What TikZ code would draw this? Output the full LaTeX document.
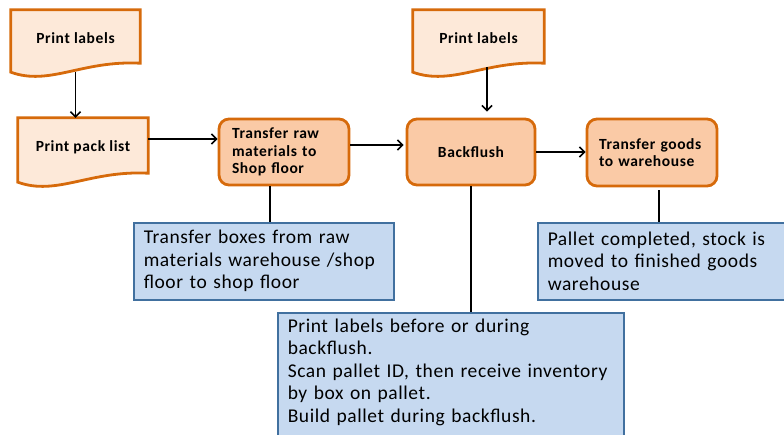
\documentclass[tikz,border=0pt]{standalone}
\usepackage{fontspec}
\setmainfont{Carlito}
\newfontfamily\boxfont[LetterSpace=4]{Carlito}
\newfontfamily\notefont[LetterSpace=3]{Carlito}
\usetikzlibrary{calc,arrows.meta,backgrounds}
\definecolor{orangeline}{HTML}{D66A0B}
\definecolor{docfill}{HTML}{FDE9D9}
\definecolor{procfill}{HTML}{FACAA6}
\definecolor{notefill}{HTML}{C6D9F0}
\definecolor{noteline}{HTML}{41709F}
\tikzset{
  docbox/.style={minimum height=56pt, inner sep=0pt, font=\boxfont\bfseries\fontsize{15.5}{17.5}\selectfont},
  docline/.style={draw=orangeline, line width=2.8pt, fill=docfill},
  procbox/.style={draw=orangeline, line width=2.8pt, fill=procfill, rounded corners=10pt,
    inner ysep=0pt, font=\boxfont\bfseries\fontsize{15.5}{17.5}\selectfont},
  notebox/.style={draw=noteline, line width=1.5pt, fill=notefill, anchor=north west,
    align=left, inner xsep=10pt, inner ysep=6pt, font=\notefont\fontsize{19.5}{22.5}\selectfont},
  conn/.style={line width=1.8pt, black},
  arr/.style={conn, -{Straight Barb[length=5pt,width=10pt,line width=1.6pt]}}
}
\newcommand\docpath[1]{%
  \path[docline] (#1.north west) -- (#1.north east) -- ($(#1.south east)+(0,-3)$)
    .. controls ($(#1.south west)!0.55!(#1.south east)+(0,-6)$)
       and ($(#1.south west)!0.3!(#1.south east)+(0,20)$) ..
    ($(#1.south west)+(0,6)$) -- cycle;}
\begin{document}
\begin{tikzpicture}[x=1pt,y=-1pt]
\useasboundingbox (0,0) rectangle (784,434);
\clip (0,0) rectangle (784,434);

% document shapes
\node[docbox, minimum width=129pt] (pl1) at (75.5,38) {Print labels};
\node[docbox, minimum width=130pt, minimum height=58pt] (pack) at (83,147) {Print pack list};
\node[docbox, minimum width=131pt] (pl2) at (478.5,38) {Print labels};
\begin{scope}[on background layer]
  \docpath{pl1}
  \docpath{pack}
  \docpath{pl2}
\end{scope}

% process boxes
\node[procbox, minimum width=130pt, minimum height=66pt, inner xsep=13pt, text width=104pt, align=left]
  (raw) at (284,152) {Transfer raw\\materials to\\Shop floor};
\node[procbox, minimum width=128pt, minimum height=66pt, align=center]
  (bf) at (471,152) {Backflush};
\node[procbox, minimum width=130pt, minimum height=67pt, inner xsep=12pt, text width=106pt, align=left]
  (goods) at (652,152.5) {Transfer goods\\to warehouse};

% notes
\node[notebox, text width=240pt, minimum height=77pt] (n1) at (133,222)
  {Transfer boxes from raw\\materials warehouse /shop\\floor to shop floor};
\node[notebox, text width=240pt, minimum height=77pt] (n3) at (537,222)
  {Pallet completed, stock is\\moved to finished goods\\warehouse};
\node[notebox, text width=326pt, inner ysep=6pt] (n2) at (277,312)
  {Print labels before or during\\backflush.\\Scan pallet ID, then receive inventory\\by box on pallet.\\Build pallet during backflush.\rule[-30pt]{0pt}{0pt}};

% connectors
\draw[arr] ([yshift=-6pt]pl1.south) -- (pl1.south |- pack.north);
\draw[arr] ([xshift=8.5pt,yshift=-1pt]pl2.south) coordinate (s2) -- ([yshift=6pt]s2 |- bf.north);
\draw[arr] ([yshift=8pt]pack.east) -- ([yshift=8pt]raw.west |- pack.east);
\draw[arr, shorten >=2pt] ([yshift=7pt]raw.east) -- ([yshift=7pt]bf.west |- raw.east);
\draw[arr] (bf.east) -- (goods.west |- bf.east);
\draw[conn] ([xshift=-14pt]raw.south) -- ([xshift=-14pt]raw.south |- n1.north);
\draw[conn] (bf.south) -- (bf.south |- n2.north);
\draw[conn] ([xshift=7pt,yshift=-3pt]goods.south) -- ([xshift=7pt]goods.south |- n3.north);
\end{tikzpicture}
\end{document}
